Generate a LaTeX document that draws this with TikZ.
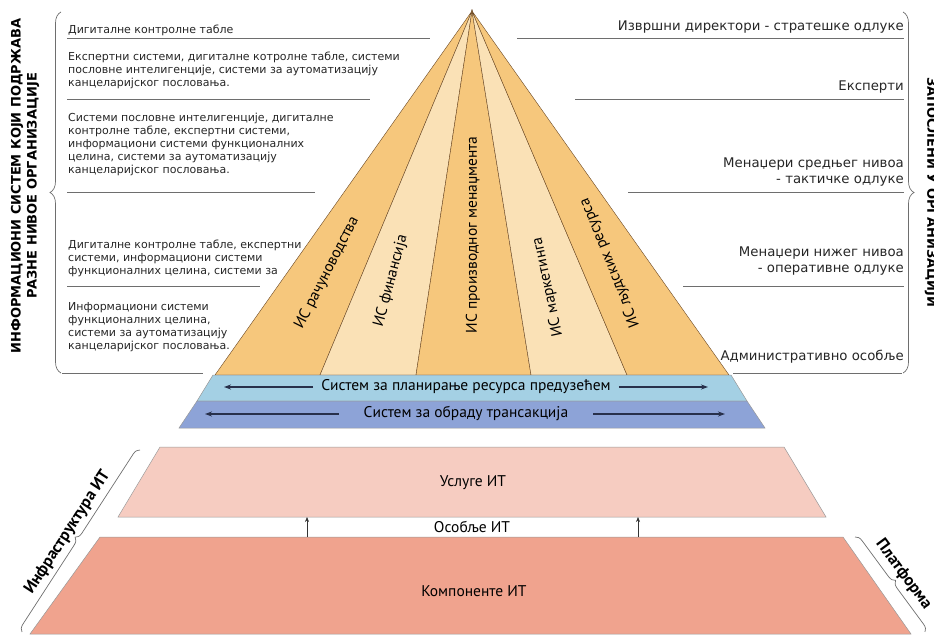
\documentclass[tikz,border=0pt]{standalone}
\usepackage{fontspec}
\setmainfont{DejaVu Sans}
\newfontfamily\bandfont{PT Sans}
\usetikzlibrary{decorations.pathreplacing,arrows.meta}
\definecolor{isdark}{RGB}{246,199,124}
\definecolor{islight}{RGB}{250,225,182}
\definecolor{erpblue}{RGB}{164,208,228}
\definecolor{tpsblue}{RGB}{141,163,215}
\definecolor{itserv}{RGB}{246,204,193}
\definecolor{itcomp}{RGB}{240,163,142}
\definecolor{rulegray}{RGB}{110,110,110}
\definecolor{arrnavy}{RGB}{40,48,75}

\begin{document}
\begin{tikzpicture}[x=1pt,y=-1pt,
    sep/.style={draw=rulegray,line width=0.7pt},
    lvl/.style={font=\fontsize{11}{13}\selectfont,align=left,anchor=west,inner sep=0pt,text=black!85},
    job/.style={font=\fontsize{13.3}{16}\selectfont,align=right,anchor=east,inner sep=0pt,text=black!85},
    side/.style={font=\fontsize{13}{16}\selectfont\bfseries,align=center,inner sep=0pt},
    isys/.style={font=\bandfont\fontsize{15.5}{17}\selectfont,inner sep=0pt},
    band/.style={draw=rulegray!70,line width=0.5pt},
    brc/.style={draw=rulegray,line width=0.7pt,decorate,decoration={brace,amplitude=#1}},
    brc/.default=11pt,
    barr/.style={draw=arrnavy,line width=1.3pt,-{Stealth[length=7pt,width=5pt]}},
    sarr/.style={draw=black!80,line width=0.6pt,-{Stealth[length=5pt,width=4pt]}}]

\useasboundingbox (0,0) rectangle (934,636);

% piramida po funkcionalnim celinama
\coordinate (apex) at (472,11);
\foreach \a/\b/\c in {215/320/isdark,320/416/islight,416/531/isdark,531/627/islight,627/729/isdark}
    \filldraw[fill=\c,draw=brown!55!black,line width=0.4pt] (apex) -- (\a,375) -- (\b,375) -- cycle;

\node[isys,rotate=63] (acc) at (327,273) {ИС рачуноводства};
\node[isys,rotate=75] (fin) at (391,281) {ИС финансија};
\node[isys,rotate=90] (prod) at (473,235) {ИС производног менаџмента};
\node[isys,rotate=102] (mkt) at (548,287) {ИС маркетинга};
\node[isys,rotate=112] (hrm) at (610,263) {ИС људских ресурса};

% ERP i TPS
\filldraw[band,fill=erpblue] (213,375) -- (731,375) -- (747,401) -- (197,401) -- cycle;
\filldraw[band,fill=tpsblue] (197,401) -- (747,401) -- (765,428) -- (179,428) -- cycle;
\node[isys,inner xsep=8pt] (erp) at (466,387) {Систем за планирање ресурса предузећем};
\node[isys,inner xsep=25pt] (tps) at (466,414) {Систем за обраду трансакција};
\coordinate (erpL) at (224,387);
\coordinate (erpR) at (708,387);
\coordinate (tpsL) at (205,414);
\coordinate (tpsR) at (725,414);
\draw[barr] (erp.west) -- (erpL);
\draw[barr] (erp.east) -- (erpR);
\draw[barr] (tps.west) -- (tpsL);
\draw[barr] (tps.east) -- (tpsR);

% infrastruktura
\filldraw[band,fill=itserv] (160,447) -- (784,447) -- (826,517) -- (118,517) -- cycle;
\filldraw[band,fill=itcomp] (100,537) -- (843,537) -- (911,634) -- (30,634) -- cycle;
\node[isys] (serv) at (473,483) {Услуге ИТ};
\node[isys] (staff) at (472,527) {Особље ИТ};
\node[isys] (comp) at (474,591) {Компоненте ИТ};
\coordinate (c1) at (307,537);
\coordinate (s1) at (307,517);
\coordinate (c2) at (638,537);
\coordinate (s2) at (638,517);
\draw[sarr] (c1) -- (s1);
\draw[sarr] (c2) -- (s2);

% nivoi levo
\node[lvl] (l1) at (68,30) {Дигиталне контролне табле};
\node[lvl] (l2) at (68,70) {Експертни системи, дигиталне котролне табле, системи\\пословне интелигенције, системи за аутоматизацију\\канцеларијског пословања.};
\node[lvl] (l3) at (68,144) {Системи пословне интелигенције, дигиталне\\контролне табле, експертни системи,\\информациони системи функционалних\\целина, системи за аутоматизацију\\канцеларијског пословања.};
\node[lvl] (l4) at (68,258) {Дигиталне контролне табле, експертни\\системи, информациони системи\\функционалних целина, системи за};
\node[lvl] (l5) at (68,327) {Информациони системи\\функционалних целина,\\системи за аутоматизацију\\канцеларијског пословања.};
\draw[sep] (67,38) -- (430,38);
\draw[sep] (67,99) -- (370,99);
\draw[sep] (67,192) -- (315,192);
\draw[sep] (67,286) -- (260,286);
\draw[sep] (62,373) -- (203,373);

% zaposleni desno
\node[job] (r1) at (904,27) {Извршни директори - стратешке одлуке};
\node[job] (r2) at (904,87) {Експерти};
\node[job] (r3) at (904,172) {Менаџери средњег нивоа\\- тактичке одлуке};
\node[job] (r4) at (904,261) {Менаџери нижег нивоа\\- оперативне одлуке};
\node[job] (r5) at (904,357) {Административно особље};
\draw[sep] (517,38) -- (904,38);
\draw[sep] (575,99) -- (904,99);
\draw[sep] (628,192) -- (904,192);
\draw[sep] (683,286) -- (904,286);
\draw[sep] (733,373) -- (902,373);

% zagrade
\draw[brc] (61,373) -- (61,12);
\draw[brc] (903,12) -- (903,373);
\node[side,rotate=90] (infosys) at (25,186) {ИНФОРМАЦИОНИ СИСТЕМ КОЈИ ПОДРЖАВА\\РАЗНЕ НИВОЕ ОРГАНИЗАЦИЈЕ};
\node[side,rotate=-90] (emp) at (931,192) {ЗАПОСЛЕНИ У ОРГАНИЗАЦИЈИ};
\draw[brc=7pt] (22,632) -- node[sloped,above=8pt,font=\bandfont\bfseries\fontsize{16.5}{18}\selectfont,inner sep=0pt] (infra) {Инфраструктура ИТ} (140,450);
\draw[brc=7pt] (855,537) -- node[sloped,above=9pt,font=\bandfont\bfseries\fontsize{16.5}{18}\selectfont,inner sep=0pt] (plat) {Платформа} (925,632);
\end{tikzpicture}
\end{document}
